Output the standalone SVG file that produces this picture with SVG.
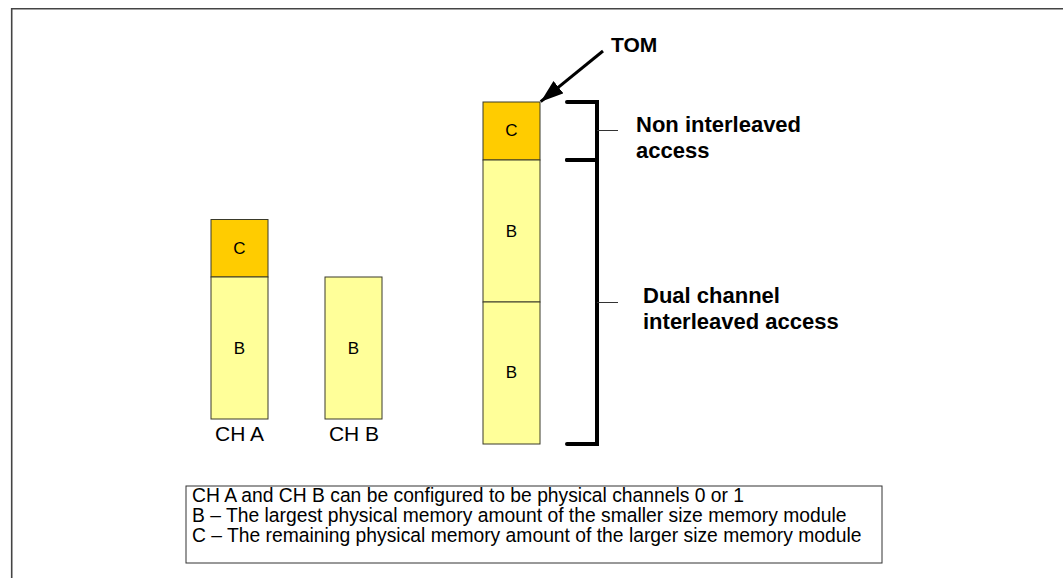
<svg xmlns="http://www.w3.org/2000/svg" width="1063" height="578" viewBox="0 0 1063 578">
<style>
.c{fill:#FFCC00;stroke:#3a3a2a;stroke-width:1}
.b{fill:#FFFF99;stroke:#3a3a2a;stroke-width:1}
.lbl{font-family:"Liberation Sans",Arial,sans-serif;font-size:17px;fill:#000;text-anchor:middle}
.ch{font-family:"Liberation Sans",Arial,sans-serif;font-size:21px;fill:#000;text-anchor:middle}
.bold{font-family:"Liberation Sans",Arial,sans-serif;font-size:22px;font-weight:bold;fill:#000}
.leg{font-family:"Liberation Sans",Arial,sans-serif;font-size:19.3px;fill:#000}
.brk{fill:none;stroke:#000;stroke-width:4;stroke-linecap:round;stroke-linejoin:miter}
.tick{stroke:#333;stroke-width:1}
</style>
<defs>
<marker id="ah" markerUnits="userSpaceOnUse" markerWidth="26" markerHeight="18" refX="23" refY="8" orient="auto">
<path d="M0,0 L23,8 L0,16 Z" fill="#000"/>
</marker>
</defs>
<rect x="0" y="0" width="1063" height="578" fill="#fff"/>
<path d="M11.7,578 V8.7 H1063" fill="none" stroke="#444" stroke-width="1.6"/>

<g id="cha">
<rect class="c" x="211" y="219.5" width="57" height="57.5"/>
<text class="lbl" x="239.5" y="254">C</text>
<rect class="b" x="211" y="277" width="57" height="142"/>
<text class="lbl" x="239.5" y="354">B</text>
<text class="ch" x="239.5" y="440.5">CH A</text>
</g>

<g id="chb">
<rect class="b" x="325" y="277" width="57" height="142"/>
<text class="lbl" x="353.5" y="354">B</text>
<text class="ch" x="354" y="440.5">CH B</text>
</g>

<g id="stack">
<rect class="c" x="483" y="102" width="57" height="58"/>
<text class="lbl" x="511.5" y="136">C</text>
<rect class="b" x="483" y="160" width="57" height="142"/>
<text class="lbl" x="511.5" y="237">B</text>
<rect class="b" x="483" y="302" width="57" height="142"/>
<text class="lbl" x="511.5" y="378">B</text>
</g>

<g id="tom">
<text class="bold" x="611" y="52" style="font-size:21px">TOM</text>
</g>

<g id="nonint">
<text class="bold" x="636" y="132">Non interleaved</text>
<text class="bold" x="636" y="158">access</text>
</g>

<g id="dual">
<text class="bold" x="643" y="303">Dual channel</text>
<text class="bold" x="643" y="329">interleaved access</text>
</g>

<g id="legend">
<rect x="186" y="486" width="696" height="77" fill="#fff" stroke="#333" stroke-width="1"/>
<text class="leg" x="192" y="502">CH A and CH B can be configured to be physical channels 0 or 1</text>
<text class="leg" x="192" y="522">B – The largest physical memory amount of the smaller size memory module</text>
<text class="leg" x="192" y="542">C – The remaining physical memory amount of the larger size memory module</text>
</g>

<g id="connectors">
<line x1="603" y1="51" x2="540.7" y2="101.7" stroke="#000" stroke-width="3" marker-end="url(#ah)"/>
<path class="brk" d="M567,102 H597 V160 H567"/>
<path class="brk" d="M567,160 H597 V444 H567"/>
<line class="tick" x1="597" y1="130.5" x2="618" y2="130.5"/>
<line class="tick" x1="597" y1="302.5" x2="618" y2="302.5"/>
</g>
</svg>
